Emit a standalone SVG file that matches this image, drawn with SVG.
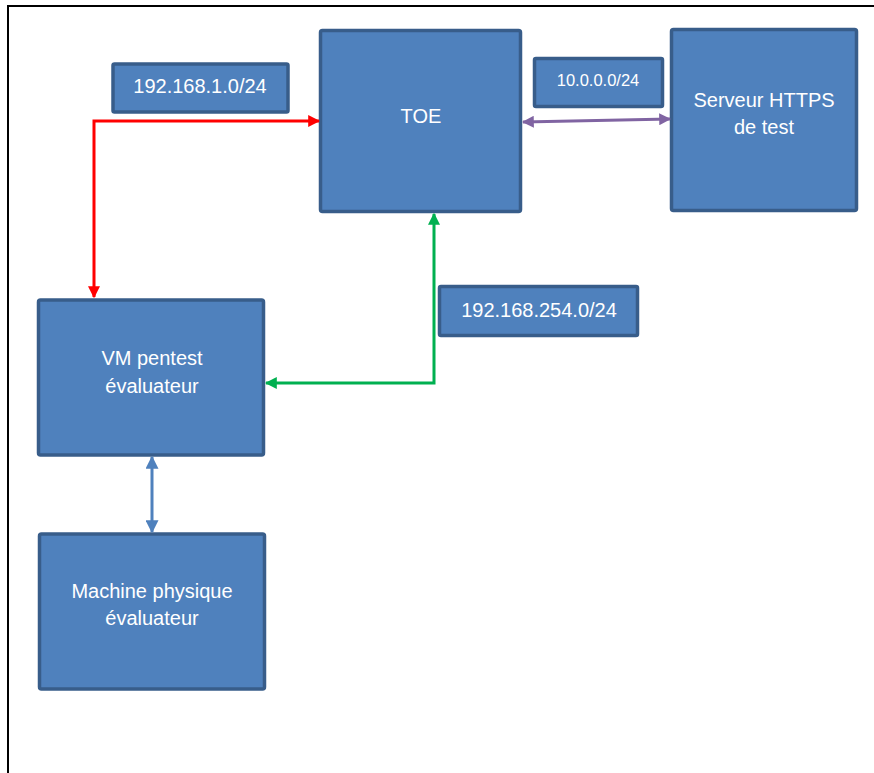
<svg xmlns="http://www.w3.org/2000/svg" width="874" height="773" viewBox="0 0 874 773">
<defs>
<style>
.box{fill:#4F81BD;stroke:#385D8A;stroke-width:3.5}
.t{font-family:"Liberation Sans",Arial,sans-serif;font-size:20px;fill:#FFFFFF;text-anchor:middle}
.c{fill:none;stroke-width:3}
</style>
<marker id="mr" viewBox="0 0 10 10" refX="9" refY="5" markerWidth="12" markerHeight="12" markerUnits="userSpaceOnUse" orient="auto-start-reverse"><path d="M0,0 L10,5 L0,10 z" fill="#FF0000"/></marker>
<marker id="mp" viewBox="0 0 10 10" refX="9" refY="5" markerWidth="12" markerHeight="12" markerUnits="userSpaceOnUse" orient="auto-start-reverse"><path d="M0,0 L10,5 L0,10 z" fill="#8064A2"/></marker>
<marker id="mg" viewBox="0 0 10 10" refX="9" refY="5" markerWidth="12" markerHeight="12" markerUnits="userSpaceOnUse" orient="auto-start-reverse"><path d="M0,0 L10,5 L0,10 z" fill="#00B050"/></marker>
<marker id="mb" viewBox="0 0 10 10" refX="9" refY="5" markerWidth="13" markerHeight="13" markerUnits="userSpaceOnUse" orient="auto-start-reverse"><path d="M0,0 L10,5 L0,10 z" fill="#4F81BD"/></marker>
</defs>
<rect width="874" height="773" fill="#FFFFFF"/>
<path d="M8,773 L8,6 L874,6" fill="none" stroke="#000000" stroke-width="2"/>

<g id="toe"><rect class="box" x="320.5" y="30.5" width="200" height="181" rx="2"/><text class="t" x="421" y="123">TOE</text></g>
<g id="serveur"><rect class="box" x="671.5" y="29.5" width="185" height="181" rx="2"/><text class="t" x="764" y="107">Serveur HTTPS</text><text class="t" x="764" y="134">de test</text></g>
<g id="vm"><rect class="box" x="38.5" y="300" width="225" height="155" rx="2"/><text class="t" x="152" y="365">VM pentest</text><text class="t" x="152" y="393">évaluateur</text></g>
<g id="machine"><rect class="box" x="39.5" y="534" width="225" height="155" rx="2"/><text class="t" x="152" y="598">Machine physique</text><text class="t" x="152" y="625">évaluateur</text></g>
<g id="lbl1"><rect class="box" x="113" y="64" width="175" height="48" rx="1.5"/><text class="t" x="200" y="93">192.168.1.0/24</text></g>
<g id="lbl2"><rect class="box" x="534.5" y="58.5" width="128" height="48" rx="1.5"/><text class="t" x="598" y="86" style="font-size:16.5px">10.0.0.0/24</text></g>
<g id="lbl3"><rect class="box" x="439.5" y="286.5" width="198" height="49" rx="1.5"/><text class="t" x="539" y="317">192.168.254.0/24</text></g>

<g id="connectors">
<path class="c" d="M94,297 L94,121 L319,121" stroke="#FF0000" marker-start="url(#mr)" marker-end="url(#mr)"/>
<path class="c" d="M523,122 L670,119" stroke="#8064A2" marker-start="url(#mp)" marker-end="url(#mp)"/>
<path class="c" d="M434,214 L434,383 L266,383" stroke="#00B050" marker-start="url(#mg)" marker-end="url(#mg)"/>
<path class="c" d="M152,457 L152,532" stroke="#4F81BD" stroke-width="4" marker-start="url(#mb)" marker-end="url(#mb)"/>
</g>
</svg>
